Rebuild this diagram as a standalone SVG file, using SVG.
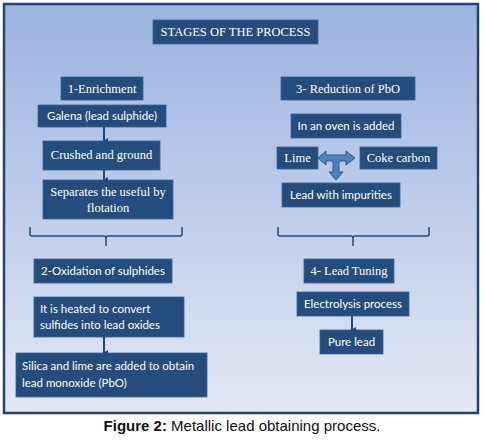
<svg xmlns="http://www.w3.org/2000/svg" width="485" height="447" viewBox="0 0 485 447">
<defs>
<linearGradient id="bg" x1="0" y1="0" x2="0" y2="1">
<stop offset="0" stop-color="#9bb3e1"/>
<stop offset="1" stop-color="#e3e8f5"/>
</linearGradient>
<marker id="ah" viewBox="0 0 6 6" refX="3" refY="5" markerWidth="6" markerHeight="6" markerUnits="userSpaceOnUse" orient="auto-start-reverse">
<path d="M0,1 L3,6 L6,1 Z" fill="#1f497d"/>
</marker>
<style>
.box{fill:#244d7e;stroke:#3b6496;stroke-width:0.8}
.s{font-family:"Liberation Serif",serif;font-size:12.5px;fill:#fff;text-anchor:middle}
.c{font-family:Lato,"Open Sans",sans-serif;font-size:11.5px;fill:#fff;text-anchor:middle}
.ar{stroke:#1f497d;stroke-width:2;fill:none}
.br{stroke:#1f497d;stroke-width:1.5;fill:none}
</style>
</defs>
<rect x="0" y="0" width="485" height="447" fill="#fff"/>
<rect x="4" y="4" width="474" height="409" fill="url(#bg)" stroke="#24446f" stroke-width="2.5"/>

<g id="title"><rect class="box" x="153" y="20" width="165" height="24"/><text class="s" x="235.5" y="36">STAGES OF THE PROCESS</text></g>
<g id="enrichment"><rect class="box" x="61" y="77" width="82" height="23"/><text class="s" x="102" y="93">1-Enrichment</text></g>
<g id="galena"><rect class="box" x="38" y="105" width="128" height="22"/><text class="c" x="102" y="120">Galena (lead sulphide)</text></g>
<g id="crushed"><rect class="box" x="43" y="141" width="117" height="29"/><text class="s" x="101.5" y="159">Crushed and ground</text></g>
<g id="separates"><rect class="box" x="43" y="180" width="130" height="39"/><text class="s" x="108" y="196">Separates the useful by</text><text class="s" x="108" y="212">flotation</text></g>

<g id="reduction"><rect class="box" x="281" y="77" width="134" height="23"/><text class="s" x="348" y="93">3- Reduction of PbO</text></g>
<g id="oven"><rect class="box" x="291" y="114" width="110" height="24"/><text class="c" x="346" y="130">In an oven is added</text></g>
<g id="lime"><rect class="box" x="277" y="147" width="41" height="22"/><text class="s" x="297.5" y="162">Lime</text></g>
<g id="coke"><rect class="box" x="360" y="147" width="77" height="22"/><text class="s" x="398.5" y="162">Coke carbon</text></g>
<g id="impurities"><rect class="box" x="282" y="183" width="118" height="24"/><text class="c" x="341" y="199">Lead with impurities</text></g>

<g id="oxidation"><rect class="box" x="34" y="259" width="138" height="24"/><text class="c" x="103" y="275">2-Oxidation of sulphides</text></g>
<g id="heated"><rect class="box" x="34" y="297" width="150" height="40"/><text class="c" x="40" y="313" style="text-anchor:start">It is heated to convert</text><text class="c" x="40" y="329" style="text-anchor:start">sulfides into lead oxides</text></g>
<g id="silica"><rect class="box" x="16" y="353" width="191" height="44"/><text class="c" x="22" y="370" style="text-anchor:start">Silica and lime are added to obtain</text><text class="c" x="22" y="387" style="text-anchor:start">lead monoxide (PbO)</text></g>

<g id="tuning"><rect class="box" x="304" y="259" width="90" height="24"/><text class="s" x="349" y="275">4- Lead Tuning</text></g>
<g id="electrolysis"><rect class="box" x="297" y="292" width="112" height="24"/><text class="c" x="353" y="308">Electrolysis process</text></g>
<g id="pure"><rect class="box" x="320" y="330" width="63" height="24"/><text class="c" x="351.5" y="346">Pure lead</text></g>

<g id="connectors">
<line class="ar" x1="104" y1="127" x2="104" y2="141" marker-end="url(#ah)"/>
<line class="ar" x1="104" y1="170" x2="104" y2="180" marker-end="url(#ah)"/>
<line class="ar" x1="104" y1="337" x2="104" y2="353" marker-end="url(#ah)"/>
<line class="ar" x1="352" y1="316" x2="352" y2="330" marker-end="url(#ah)"/>
<path class="br" d="M30,227 L30,234 Q30,236 32,236 L104,236 Q106,236 106,238 L106,246 M106,238 Q106,236 108,236 L180,236 Q182,236 182,234 L182,227"/>
<path class="br" d="M278,227 L278,234 Q278,236 280,236 L351,236 Q353,236 353,238 L353,246 M353,238 Q353,236 355,236 L427,236 Q429,236 429,234 L429,227"/>
<path d="M318,158 L326,151 L326,155 L346,155 L346,151 L355,158 L346,165 L346,161 L339,161 L339,172 L343,172 L336,180 L329,172 L333,172 L333,161 L326,161 L326,165 Z" fill="#4f81bd" stroke="#2c5a8f" stroke-width="1"/>
</g>

<text x="242" y="431" font-family="Liberation Sans,Arial,sans-serif" font-size="15" text-anchor="middle" fill="#111"><tspan font-weight="bold">Figure 2:</tspan> Metallic lead obtaining process.</text>
</svg>
